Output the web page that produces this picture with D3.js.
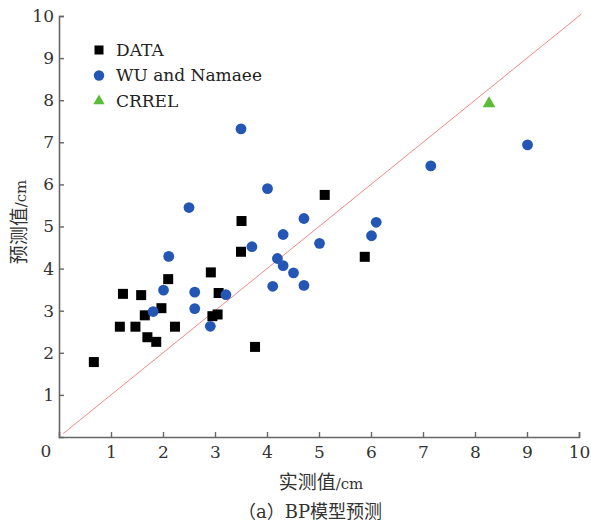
<!DOCTYPE html>
<html lang="zh">
<head>
<meta charset="UTF-8">
<title>BP模型预测</title>
<script src="https://d3js.org/d3.v7.min.js"></script>
<style>
  body { margin: 0; padding: 0; background: #fff; }
  svg { display: block; }
  .tick-label { font-family: "DejaVu Serif", "Liberation Serif", serif; font-size: 17px; fill: #333; }
  .legend-text { font-family: "DejaVu Serif", "Liberation Serif", serif; font-size: 17px; fill: #222; }
  .cn { font-family: "DejaVu Serif", "Noto Sans CJK SC", serif; font-size: 19px; fill: #333; }
  .unit { font-size: 15px; }
</style>
</head>
<body>
<div id="chart"></div>
<script>
// measured (x) vs predicted (y), cm
const dataX = [0.67, 1.17, 1.23, 1.47, 1.58, 1.65, 1.70, 1.87, 1.97, 2.10, 2.23, 2.92, 2.95, 3.05, 3.07, 3.50, 3.51, 3.77, 5.11, 5.88];
const dataY = [1.78, 2.62, 3.40, 2.62, 3.37, 2.89, 2.37, 2.26, 3.06, 3.75, 2.62, 3.91, 2.87, 2.91, 3.42, 4.40, 5.13, 2.14, 5.75, 4.28];

const wuX = [1.81, 2.01, 2.11, 2.50, 2.61, 2.61, 2.91, 3.21, 3.50, 3.71, 4.01, 4.11, 4.20, 4.31, 4.31, 4.51, 4.71, 4.71, 5.01, 6.01, 6.10, 7.15, 9.01];
const wuY = [2.98, 3.49, 4.29, 5.45, 3.44, 3.05, 2.63, 3.38, 7.32, 4.52, 5.90, 3.58, 4.24, 4.81, 4.07, 3.90, 5.19, 3.60, 4.60, 4.78, 5.10, 6.44, 6.94];

const crrelX = [8.27];
const crrelY = [7.92];

const xTicks = [1, 2, 3, 4, 5, 6, 7, 8, 9, 10];
const yTicks = [1, 2, 3, 4, 5, 6, 7, 8, 9, 10];
const legendNames = ["DATA", "WU and Namaee", "CRREL"];

const width = 591, height = 526;
const margin = { left: 59, right: 12, top: 16, bottom: 89 };

const svg = d3.select("#chart").append("svg")
  .attr("width", width)
  .attr("height", height);

const x = d3.scaleLinear().domain([0, 10]).range([margin.left, 579]);
const y = d3.scaleLinear().domain([0, 10]).range([437, margin.top]);

// 1:1 line
svg.append("line")
  .attr("x1", x(0.08)).attr("y1", y(0.08))
  .attr("x2", x(10.05)).attr("y2", y(10.05))
  .attr("stroke", "#f27b7b")
  .attr("stroke-width", 0.9);

// axes
const xAxis = svg.append("g")
  .attr("transform", `translate(0,${y(0)})`)
  .call(d3.axisBottom(x).tickValues(xTicks).tickSize(-5).tickPadding(9).tickFormat(d3.format("d")));
const yAxis = svg.append("g")
  .attr("transform", `translate(${x(0)},0)`)
  .call(d3.axisLeft(y).tickValues(yTicks).tickSize(-5).tickPadding(5).tickFormat(d3.format("d")));

[xAxis, yAxis].forEach(g => {
  g.select(".domain").attr("stroke", "#666").attr("stroke-width", 1.6);
  g.selectAll(".tick line").attr("stroke", "#666").attr("stroke-width", 1.4);
  g.selectAll(".tick text").attr("class", "tick-label").attr("font-family", null).attr("font-size", null);
});

// shared origin label
svg.append("text")
  .attr("class", "tick-label")
  .attr("x", x(0) - 13)
  .attr("y", y(0) + 20)
  .attr("text-anchor", "middle")
  .text("0");

// series
const sq = 10;
svg.append("g").selectAll("rect")
  .data(d3.zip(dataX, dataY))
  .join("rect")
  .attr("x", d => x(d[0]) - sq / 2)
  .attr("y", d => y(d[1]) - sq / 2)
  .attr("width", sq).attr("height", sq)
  .attr("fill", "#000");

svg.append("g").selectAll("circle")
  .data(d3.zip(wuX, wuY))
  .join("circle")
  .attr("cx", d => x(d[0]))
  .attr("cy", d => y(d[1]))
  .attr("r", 5.4)
  .attr("fill", "#2457b5");

const tri = d3.symbol().type(d3.symbolTriangle).size(70);
svg.append("g").selectAll("path")
  .data(d3.zip(crrelX, crrelY))
  .join("path")
  .attr("d", tri)
  .attr("transform", d => `translate(${x(d[0])},${y(d[1])})`)
  .attr("fill", "#5dbb3a");

// legend
const legend = svg.append("g").attr("transform", "translate(99,50)");
legendNames.forEach((name, i) => {
  const row = legend.append("g").attr("transform", `translate(0,${i * 25.5})`);
  if (i === 0) {
    row.append("rect").attr("x", -4.5).attr("y", -4.5).attr("width", 9).attr("height", 9).attr("fill", "#000");
  } else if (i === 1) {
    row.append("circle").attr("r", 5.2).attr("fill", "#2457b5");
  } else {
    row.append("path").attr("d", d3.symbol().type(d3.symbolTriangle).size(55)).attr("fill", "#5dbb3a");
  }
  row.append("text")
    .attr("class", "legend-text")
    .attr("x", 17)
    .attr("dy", "0.35em")
    .text(name);
});

// axis titles
const xt = svg.append("text")
  .attr("class", "cn")
  .attr("x", 321).attr("y", 489)
  .attr("text-anchor", "middle");
xt.append("tspan").text("实测值");
xt.append("tspan").attr("class", "unit").text("/cm");

const yt = svg.append("text")
  .attr("class", "cn")
  .attr("transform", "translate(26,222) rotate(-90)")
  .attr("text-anchor", "middle");
yt.append("tspan").text("预测值");
yt.append("tspan").attr("class", "unit").text("/cm");

svg.append("text")
  .attr("class", "cn")
  .style("font-size", "18px")
  .attr("x", 310).attr("y", 518)
  .attr("text-anchor", "middle")
  .text("（a）BP模型预测");
</script>
</body>
</html>
